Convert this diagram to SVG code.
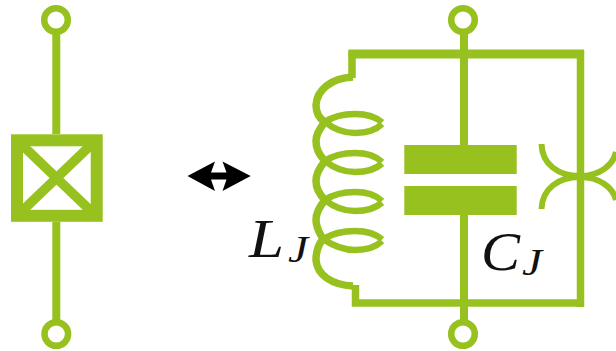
<svg xmlns="http://www.w3.org/2000/svg" width="616" height="351" viewBox="0 0 616 351">
<style>
.w{fill:none;stroke:#97c11f;stroke-linejoin:miter}
.f{fill:#97c11f}
.t{font-family:"Liberation Serif",serif;font-style:italic;fill:#111}
.b{font-size:54px}
.s{font-size:38px}
</style>
<rect width="616" height="351" fill="#fff"/>
<g id="connectors">
<path class="w" stroke-width="8" d="M56.300 30V134M56.300 222V324"/>
<path class="w" stroke-width="8" d="M464 30V145M464 215V324"/>
<path class="w" stroke-width="9" d="M348.500 54H584"/>
<path class="w" stroke-width="7.500" d="M352 78V50.500M355.500 285V303H584M580.500 50V307"/>
</g>
<g id="terminal-left-top"><circle class="w" stroke-width="6.500" cx="56" cy="20" r="11.800"/></g>
<g id="terminal-left-bottom"><circle class="w" stroke-width="6.500" cx="56.300" cy="334" r="11.800"/></g>
<g id="terminal-right-top"><circle class="w" stroke-width="6.500" cx="463" cy="20" r="11.800"/></g>
<g id="terminal-right-bottom"><circle class="w" stroke-width="6.500" cx="463" cy="334" r="11.800"/></g>
<g id="junction">
<rect class="w" stroke-width="12" x="17" y="140.300" width="79.700" height="75.500"/>
<path class="w" stroke-width="9.500" d="M20 143L93 213M93 143L20 213"/>
</g>
<g id="arrow"><path d="M187.500 176L215 161.500L211 172.500H226.500L222.500 161.500L250.700 176L222.500 191L226.500 179.500H211L215 191Z" fill="#000"/></g>
<g id="inductor">
<path class="w" stroke-width="7.500" d="M353 77C331 78 317 90 316 105C316 113 320 119 325 122C320 128 316 134 316 141C316 149 320 156 325 161C320 167 316 173 316 181C316 189 320 195 325 200C320 206 316 212 316 220C316 228 320 234 323 239C318 245 316 252 316 260C317 275 332 285 353 286"/>
<path class="w" stroke-width="6.500" d="M325 122C335 115 345 114 355 114C367 114 376 117 382 122.500M382 124C376 130 367 133 355 133C345 133 335 130 325 122M325 161C335 154 345 153 355 153C367 153 376 156 382 162M382 163.500C376 169 367 172 355 172C345 172 335 169 325 161M325 200C335 193 345 192 355 192C367 192 376 195 382 201M382 202.500C376 208 367 211 355 211C345 211 335 208 325 200M323 239C335 232 345 231 355 231C367 231 376 234 382 239.500M382 241C376 247 367 250 355 250C345 250 335 247 323 239"/>
</g>
<g id="capacitor">
<rect class="f" x="404.300" y="145" width="112.400" height="29"/>
<rect class="f" x="404.300" y="186" width="112.400" height="29"/>
</g>
<g id="josephson-arcs">
<path class="w" stroke-width="6" d="M541.500 144C542 164 558 176 580 176C600 176 613 165 616 152M541.500 209C542 189 558 177 580 177C600 177 613 188 616 200"/>
</g>
<g id="label-lj"><text class="t b" x="249" y="257" textLength="35" lengthAdjust="spacingAndGlyphs">L</text><text class="t s" x="288" y="262" textLength="20" lengthAdjust="spacingAndGlyphs">J</text></g>
<g id="label-cj"><text class="t b" x="481" y="270" textLength="39" lengthAdjust="spacingAndGlyphs">C</text><text class="t s" x="522" y="275" textLength="20" lengthAdjust="spacingAndGlyphs">J</text></g>
</svg>
